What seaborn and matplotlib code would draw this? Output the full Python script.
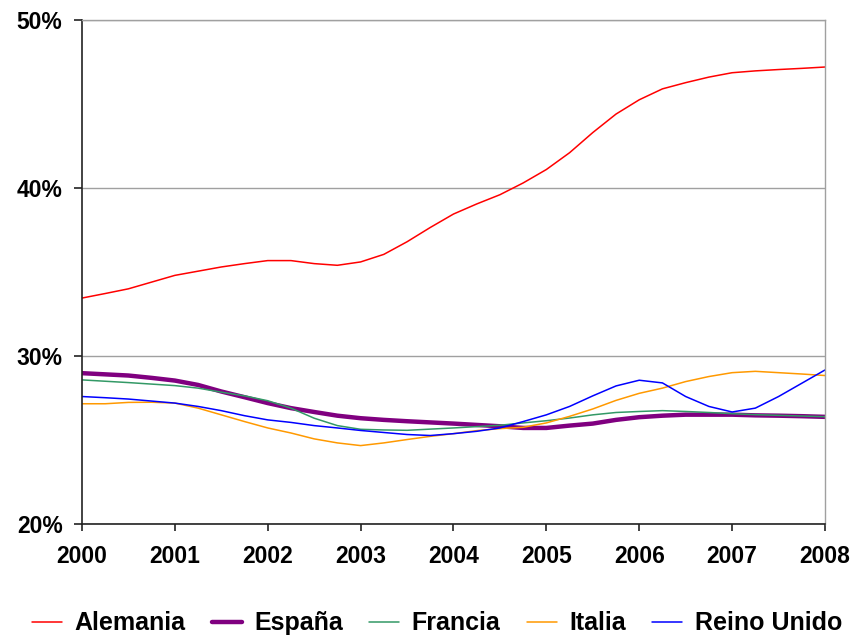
import matplotlib
matplotlib.use("Agg")
import matplotlib.pyplot as plt
import numpy as np
import pandas as pd
import seaborn as sns

# quarterly points, 2000 .. 2008
years = np.arange(33) / 4 + 2000

alemania = [33.45, 33.72, 34.0, 34.4, 34.8, 35.05, 35.3, 35.5, 35.68, 35.68, 35.5,
            35.4, 35.6, 36.05, 36.8, 37.65, 38.45, 39.05, 39.6, 40.3, 41.1, 42.1,
            43.3, 44.4, 45.25, 45.9, 46.27, 46.6, 46.86, 46.97, 47.05, 47.12, 47.2]
espana = [28.98, 28.91, 28.84, 28.7, 28.54, 28.28, 27.89, 27.55, 27.2, 26.9, 26.67,
          26.45, 26.3, 26.2, 26.12, 26.05, 25.98, 25.9, 25.82, 25.72, 25.72, 25.86,
          25.98, 26.2, 26.36, 26.45, 26.51, 26.51, 26.51, 26.47, 26.45, 26.42, 26.38]
francia = [28.58, 28.5, 28.42, 28.33, 28.24, 28.09, 27.85, 27.63, 27.34, 26.9, 26.3,
           25.86, 25.64, 25.6, 25.58, 25.65, 25.72, 25.8, 25.88, 26.02, 26.15, 26.31,
           26.5, 26.64, 26.7, 26.75, 26.7, 26.64, 26.57, 26.51, 26.47, 26.43, 26.39]
italia = [27.16, 27.16, 27.24, 27.25, 27.2, 26.9, 26.5, 26.1, 25.72, 25.42, 25.07,
          24.83, 24.67, 24.83, 25.03, 25.22, 25.38, 25.56, 25.68, 25.76, 26.02, 26.41,
          26.85, 27.36, 27.78, 28.09, 28.48, 28.78, 29.01, 29.09, 29.01, 28.93, 28.84]
reino_unido = [27.59, 27.52, 27.44, 27.32, 27.2, 27.0, 26.75, 26.45, 26.2, 26.05, 25.86,
               25.72, 25.57, 25.45, 25.33, 25.27, 25.38, 25.52, 25.72, 26.1, 26.5, 27.0,
               27.63, 28.22, 28.56, 28.4, 27.59, 27.0, 26.67, 26.9, 27.59, 28.38, 29.17]

series = {
    "Alemania": (alemania, "#ff0000", 1.1),
    "España": (espana, "#800080", 3.2),
    "Francia": (francia, "#339966", 1.1),
    "Italia": (italia, "#ff9900", 1.1),
    "Reino Unido": (reino_unido, "#0000ff", 1.1),
}

sns.set_theme(style="white")
plt.rcParams["font.family"] = ["Liberation Sans", "DejaVu Sans"]
plt.rcParams["font.weight"] = "bold"
plt.rcParams["text.color"] = "black"
plt.rcParams["xtick.color"] = "black"
plt.rcParams["ytick.color"] = "black"

fig = plt.figure(figsize=(8.52, 6.36), dpi=100)
ax = fig.add_axes([0.0962, 0.176, 0.8721, 0.7926])

for name, (vals, color, lw) in series.items():
    sns.lineplot(x=years, y=vals, color=color, linewidth=lw, label=name, ax=ax)

ax.set_xlim(2000, 2008)
ax.set_ylim(20, 50)
ax.set_xticks(range(2000, 2009))
ax.set_yticks([20, 30, 40, 50])
ax.set_yticklabels([f"{v}%" for v in [20, 30, 40, 50]])
ax.set_xlabel("")
ax.set_ylabel("")

ax.grid(True, axis="y", color="#a0a0a0", linewidth=1.0)
ax.grid(False, axis="x")

for side in ["left", "bottom"]:
    ax.spines[side].set_color("#222222")
    ax.spines[side].set_linewidth(1.2)
for side in ["right", "top"]:
    ax.spines[side].set_color("#a0a0a0")
    ax.spines[side].set_linewidth(1.0)

ax.tick_params(axis="x", direction="out", length=5, width=1.2, color="#222222",
               pad=10, labelsize=16.5, labelcolor="black", bottom=True)
ax.tick_params(axis="y", direction="out", length=6, width=1.2, color="#222222",
               pad=8, labelsize=16.5, labelcolor="black", left=True)
for lab in ax.get_xticklabels() + ax.get_yticklabels():
    lab.set_fontweight("bold")

handles, labels = ax.get_legend_handles_labels()
ax.legend_.remove()
fig.legend(handles, labels, loc="center", bbox_to_anchor=(0.513, 0.02), ncol=5,
           frameon=False, prop={"size": 18, "weight": "bold"},
           handlelength=1.2, handletextpad=0.5, columnspacing=1.05)

fig.savefig("out.png", dpi=100)
